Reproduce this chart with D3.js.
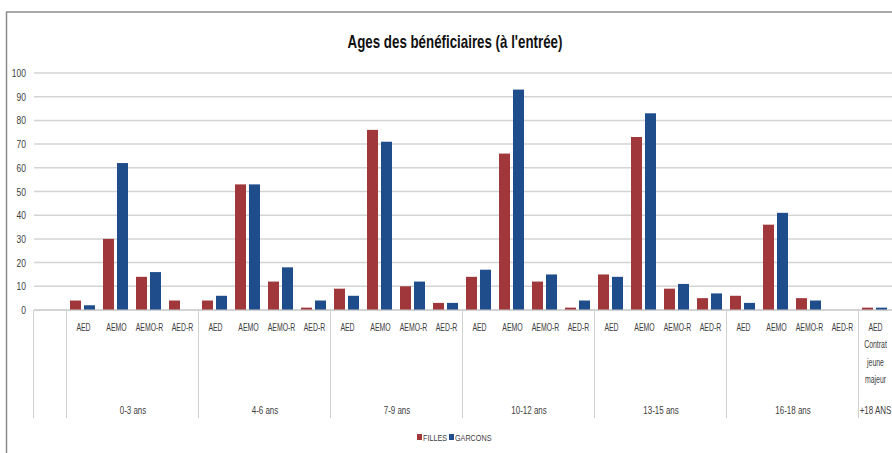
<!DOCTYPE html>
<html>
<head>
<meta charset="utf-8">
<script src="https://cdn.jsdelivr.net/npm/d3@7"></script>
<style>
  body { margin: 0; background: #fff; }
  svg text { font-family: "Liberation Sans", "DejaVu Sans", sans-serif; fill: #404040; }
</style>
</head>
<body>
<div id="chart"></div>
<script>
var W = 892, H = 453;

// data
var groupNames = ["0-3 ans", "4-6 ans", "7-9 ans", "10-12 ans", "13-15 ans", "16-18 ans", "+18 ANS"];
var groupSizes = [4, 4, 4, 4, 4, 4, 1];
var subLabels = [
  "AED", "AEMO", "AEMO-R", "AED-R",
  "AED", "AEMO", "AEMO-R", "AED-R",
  "AED", "AEMO", "AEMO-R", "AED-R",
  "AED", "AEMO", "AEMO-R", "AED-R",
  "AED", "AEMO", "AEMO-R", "AED-R",
  "AED", "AEMO", "AEMO-R", "AED-R",
  "AED|Contrat|jeune|majeur"
];
var filles  = [4, 30, 14, 4,  4, 53, 12, 1,  9, 76, 10, 3,  14, 66, 12, 1,  15, 73, 9, 5,  6, 36, 5, 0,  1];
var garcons = [2, 62, 16, 0,  6, 53, 18, 4,  6, 71, 12, 3,  17, 93, 15, 4,  14, 83, 11, 7,  3, 41, 4, 0,  1];
var series = ["FILLES", "GARCONS"];
var colors = ["#A0373A", "#1F4C8B"];
var yTicks = [0, 10, 20, 30, 40, 50, 60, 70, 80, 90, 100];

var svg = d3.select("#chart").append("svg")
    .attr("width", W)
    .attr("height", H);

// the original uses a condensed font, so squeeze text horizontally
function place(t, px, py, sx) {
  t.attr("x", 0).attr("y", 0)
   .attr("transform", "translate(" + px + "," + py + ") scale(" + sx + ",1)");
}

// frame
svg.append("line").attr("x1", 6).attr("y1", 12).attr("x2", W).attr("y2", 12)
    .attr("stroke", "#8c8c8c").attr("stroke-width", 1.5);
svg.append("line").attr("x1", 6.5).attr("y1", 12).attr("x2", 6.5).attr("y2", H)
    .attr("stroke", "#8c8c8c").attr("stroke-width", 1.5);

var title = svg.append("text")
    .attr("text-anchor", "middle")
    .style("font-size", "18px")
    .style("font-weight", "bold")
    .style("fill", "#111")
    .text("Ages des bénéficiaires (à l'entrée)");
place(title, 455, 48, 0.74);

// category index 0 is the empty slot at the left
var idx = d3.range(subLabels.length + 1);
var x = d3.scaleBand().domain(idx).range([34, 892]).padding(0);
var bw = x.bandwidth();
var xs = d3.scaleBand().domain(series).range([3, bw - 5]).paddingInner(3 / 14);
var y = d3.scaleLinear().domain([0, 100]).range([310, 73]);

// gridlines
svg.append("g").selectAll("line")
    .data(yTicks)
    .enter().append("line")
    .attr("x1", 34).attr("x2", W)
    .attr("y1", function (d) { return y(d); })
    .attr("y2", function (d) { return y(d); })
    .attr("stroke", "#d4d4d4")
    .attr("stroke-width", 1.5);

svg.append("g").selectAll("text")
    .data(yTicks)
    .enter().append("text")
    .attr("text-anchor", "end")
    .style("font-size", "10px")
    .text(function (d) { return d; })
    .each(function (d) { place(d3.select(this), 26, y(d) + 4, 0.85); });

// bars
var vals = [filles, garcons];
series.forEach(function (s, si) {
  svg.append("g").selectAll("rect")
      .data(vals[si])
      .enter().append("rect")
      .attr("x", function (d, i) { return x(i + 1) + xs(s); })
      .attr("y", function (d) { return y(d); })
      .attr("width", xs.bandwidth())
      .attr("height", function (d) { return y(0) - y(d); })
      .attr("fill", colors[si]);
});

// category axis
svg.append("line").attr("x1", 34).attr("x2", W).attr("y1", 310).attr("y2", 310)
    .attr("stroke", "#c8c8c8").attr("stroke-width", 1);

var bounds = [0];
var acc = 1;
groupSizes.forEach(function (n) { bounds.push(acc); acc += n; });
svg.append("g").selectAll("line")
    .data(bounds)
    .enter().append("line")
    .attr("x1", function (d) { return x(d) - 0.5; })
    .attr("x2", function (d) { return x(d) - 0.5; })
    .attr("y1", 310).attr("y2", 418)
    .attr("stroke", "#d0d0d0");

svg.append("g").selectAll("text")
    .data(subLabels)
    .enter().append("text")
    .attr("text-anchor", "middle")
    .style("font-size", "10.5px")
    .each(function (d, i) {
      var t = d3.select(this);
      place(t, x(i + 1) + bw / 2, 331, 0.66);
      d.split("|").forEach(function (part, k) {
        t.append("tspan")
          .attr("x", 0)
          .attr("dy", k === 0 ? 0 : 17.5)
          .text(part);
      });
    });

bounds.push(acc);
svg.append("g").selectAll("text")
    .data(groupNames)
    .enter().append("text")
    .attr("text-anchor", "middle")
    .style("font-size", "10.5px")
    .text(function (d) { return d; })
    .each(function (d, i) {
      var a = bounds[i + 1], b = bounds[i + 2];
      place(d3.select(this), (x(a) + x(b - 1) + bw) / 2, 414, 0.76);
    });

// legend
var legX = [417, 449];
series.forEach(function (s, si) {
  svg.append("rect")
      .attr("x", legX[si]).attr("y", 434)
      .attr("width", 5).attr("height", 6)
      .attr("fill", colors[si]);
  var t = svg.append("text")
      .style("font-size", "9.5px")
      .text(s);
  place(t, legX[si] + 6, 441, 0.76);
});
</script>
</body>
</html>
